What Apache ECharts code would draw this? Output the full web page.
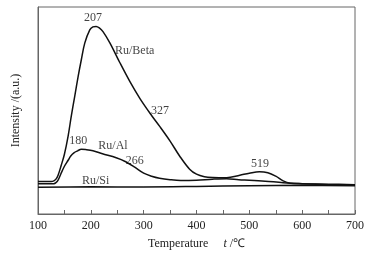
<!DOCTYPE html>
<html>
<head>
<meta charset="utf-8">
<script src="https://cdn.jsdelivr.net/npm/echarts@6/dist/echarts.min.js"></script>
<style>
  html, body { margin: 0; padding: 0; background: #fff; }
  #tpd-chart { width: 373px; height: 255px; }
</style>
</head>
<body>
<div id="tpd-chart"></div>
<script>
// temperature (°C) / intensity (a.u.)
const betaT = [100, 125, 130, 134, 138, 144, 150, 157, 163, 169.5, 176, 182, 188.5, 198, 204, 210, 216, 223, 236, 255, 274, 293, 315, 330, 350, 368, 387, 400, 415, 431, 457, 482, 500, 519, 535, 550, 564, 577, 600, 650, 700];
const betaY = [32.7, 32.7, 33.3, 35, 39, 49, 60, 78.3, 98.3, 118.3, 138.3, 155, 171.7, 185, 188, 188.5, 187, 183.3, 172, 152, 133, 116, 99, 88.3, 73.3, 58.3, 45, 40, 37.5, 36.7, 36.5, 39, 41, 42.5, 41.5, 38, 33.3, 31, 30.5, 30, 29.5];

const alT = [100, 130, 134, 138, 143, 150, 157, 162, 168, 175, 182, 190, 204, 222, 248, 266, 283, 300, 315, 330, 350, 370, 400, 430, 457, 480, 500, 530, 564, 600, 650, 700];
const alY = [30.5, 30.5, 31.5, 34, 40, 48, 54, 58.3, 61.5, 63.5, 65, 64.7, 63.5, 60.5, 56.5, 52.5, 47, 41, 38, 36, 34.5, 33.7, 34, 35, 35.5, 34.5, 34, 33, 31.5, 30.5, 29.5, 29];

const siT = [100, 200, 300, 400, 500, 600, 700];
const siY = [27, 27.3, 27.2, 27.7, 28.5, 28.8, 28.5];

// peak / curve labels: text, temperature, intensity
const noteText = ['207', 'Ru/Beta', '327', '180', 'Ru/Al', '266', '519', 'Ru/Si'];
const noteT = [204, 283, 331, 176, 242, 283, 520, 209];
const noteY = [196.7, 164.3, 103.3, 73.3, 68.3, 53.3, 50, 33.3];

const xTicks = [100, 200, 300, 400, 500, 600, 700];

const zip = (xs, ys) => xs.map((x, i) => [x, ys[i]]);

const chart = echarts.init(document.getElementById('tpd-chart'));

const serif = 'Liberation Serif, Times New Roman, serif';
const lineOf = (name, xs, ys) => ({
  name: name,
  type: 'line',
  data: zip(xs, ys),
  showSymbol: false,
  smooth: 0.35,
  lineStyle: { color: '#111', width: 1.5 },
  z: 3
});

let option = {
  animation: false,
  backgroundColor: '#fff',
  textStyle: { fontFamily: serif, color: '#222' },
  grid: {
    left: 38,
    right: 18,
    top: 7,
    bottom: 40,
    show: true,
    borderColor: '#666',
    borderWidth: 1
  },
  xAxis: {
    type: 'value',
    min: xTicks[0],
    max: xTicks[xTicks.length - 1],
    interval: 100,
    name: '{n|Temperature}     {i|t} {n|/℃}',
    nameLocation: 'middle',
    nameGap: 24,
    nameTextStyle: {
      rich: {
        n: { fontFamily: serif, fontSize: 12, color: '#222' },
        i: { fontFamily: serif, fontSize: 12, fontStyle: 'italic', color: '#222' }
      }
    },
    axisLine: { lineStyle: { color: '#666' } },
    axisTick: { inside: true, length: 4, lineStyle: { color: '#666' } },
    minorTick: { show: true, splitNumber: 2, length: 4, lineStyle: { color: '#666' } },
    axisLabel: { fontFamily: serif, fontSize: 12, color: '#222', margin: 6 },
    splitLine: { show: false }
  },
  yAxis: {
    type: 'value',
    min: 0,
    max: 208,
    name: 'Intensity /(a.u.)',
    nameLocation: 'middle',
    nameGap: 16,
    nameTextStyle: { fontFamily: serif, fontSize: 12, color: '#222' },
    axisLine: { show: true, lineStyle: { color: '#666' } },
    axisTick: { show: false },
    axisLabel: { show: false },
    splitLine: { show: false }
  },
  series: [
    lineOf('Ru/Beta', betaT, betaY),
    lineOf('Ru/Al', alT, alY),
    lineOf('Ru/Si', siT, siY),
    {
      name: 'notes',
      type: 'scatter',
      symbolSize: 0,
      data: noteText.map((t, i) => ({ name: t, value: [noteT[i], noteY[i]] })),
      label: {
        show: true,
        position: 'inside',
        formatter: '{b}',
        fontFamily: serif,
        fontSize: 12,
        color: '#111'
      },
      z: 5
    }
  ]
};

chart.setOption(option);
</script>
</body>
</html>
